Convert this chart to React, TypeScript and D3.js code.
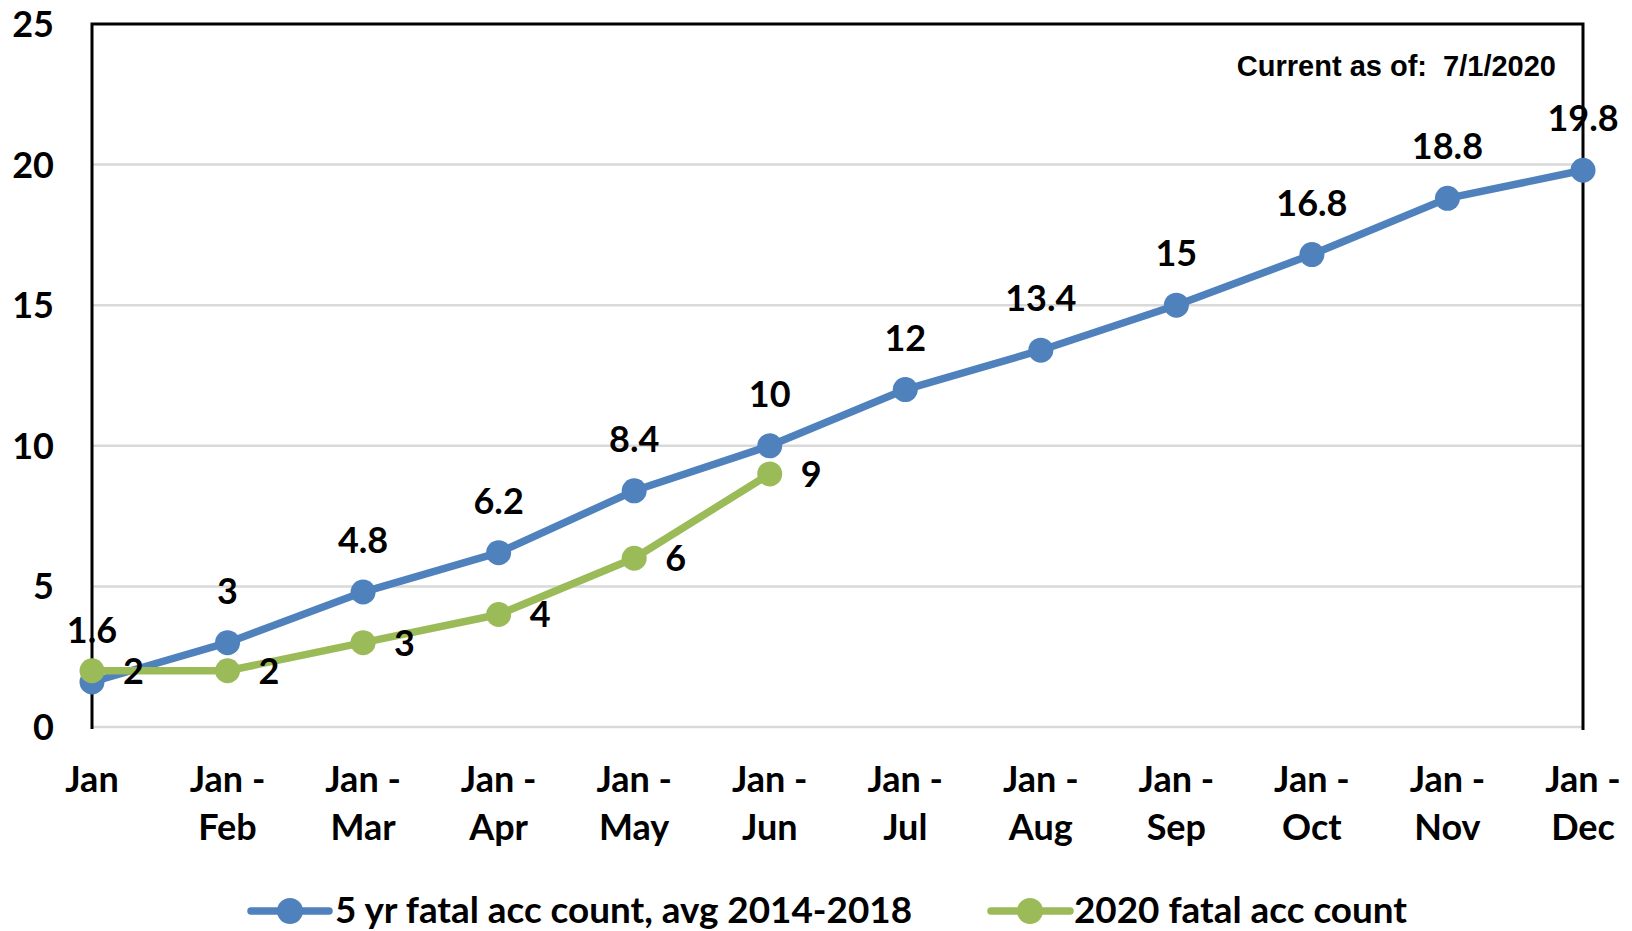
import React from 'react';
import * as d3 from 'd3';

const categories = [
  'Jan', 'Jan -|Feb', 'Jan -|Mar', 'Jan -|Apr', 'Jan -|May', 'Jan -|Jun',
  'Jan -|Jul', 'Jan -|Aug', 'Jan -|Sep', 'Jan -|Oct', 'Jan -|Nov', 'Jan -|Dec',
];
const avgValues = [1.6, 3, 4.8, 6.2, 8.4, 10, 12, 13.4, 15, 16.8, 18.8, 19.8];
const currentValues = [2, 2, 3, 4, 6, 9];
const yTicks = [0, 5, 10, 15, 20, 25];
const avgName = '5 yr fatal acc count, avg 2014-2018';
const currentName = '2020 fatal acc count';
const note = 'Current as of:  7/1/2020';

const width = 1632;
const height = 931;
const blue = '#4f81bd';
const green = '#9bbb59';
const font = 'Lato, "Noto Sans", sans-serif';
const fs = 36;

const App: React.FC = () => {
  const x = d3.scalePoint<string>().domain(categories).range([92, 1583]);
  const y = d3.scaleLinear().domain([0, 25]).range([727, 24]);

  const line = d3.line<number>()
    .x((_, i) => x(categories[i]) as number)
    .y(d => y(d));

  return (
    <svg width={width} height={height} style={{ position: 'absolute', left: 0, top: 0 }}>
      <rect width={width} height={height} fill="#fff" />
      {/* gridlines */}
      {yTicks.filter(t => t < 25).map(t => (
        <line key={t} x1={92} x2={1583} y1={y(t)} y2={y(t)} stroke="#d9d9d9" strokeWidth={2.5} />
      ))}
      {/* border */}
      <path d={`M92,${y(0) + 2}V${y(25)}H1583V${y(0) + 3}`} fill="none" stroke="#000" strokeWidth={3} />

      {/* y tick labels */}
      {yTicks.map(t => (
        <text key={t} x={54} y={y(t)} dy="0.36em" textAnchor="end"
          fontFamily={font} fontWeight={700} fontSize={fs} fill="#000">{t}</text>
      ))}

      {/* x labels */}
      {categories.map(c => (
        <text key={c} x={x(c)} y={792} textAnchor="middle"
          fontFamily={font} fontWeight={700} fontSize={fs} fill="#000">
          {c.split('|').map((s, i) => (
            <tspan key={i} x={x(c)} dy={i === 0 ? 0 : 48}>{s}</tspan>
          ))}
        </text>
      ))}

      {/* series lines */}
      <path d={line(avgValues) || ''} fill="none" stroke={blue} strokeWidth={7.5} strokeLinejoin="round" />
      {avgValues.map((v, i) => (
        <circle key={i} cx={x(categories[i])} cy={y(v)} r={12.5} fill={blue} />
      ))}
      <path d={line(currentValues) || ''} fill="none" stroke={green} strokeWidth={7.5} strokeLinejoin="round" />
      {currentValues.map((v, i) => (
        <circle key={i} cx={x(categories[i])} cy={y(v)} r={12.5} fill={green} />
      ))}

      {/* data labels */}
      {avgValues.map((v, i) => (
        <text key={i} x={x(categories[i])} y={y(v) - 39} textAnchor="middle"
          fontFamily={font} fontWeight={700} fontSize={fs} fill="#000">{v}</text>
      ))}
      {currentValues.map((v, i) => (
        <text key={i} x={(x(categories[i]) as number) + 31} y={y(v)} dy="0.36em"
          fontFamily={font} fontWeight={700} fontSize={fs} fill="#000">{v}</text>
      ))}

      <text x={1556} y={76} textAnchor="end" fontFamily='"Liberation Sans", Arial, sans-serif'
        fontWeight={700} fontSize={29} fill="#000" style={{ whiteSpace: 'pre' }}>{note}</text>

      {/* legend */}
      <line x1={251} x2={329} y1={911} y2={911} stroke={blue} strokeWidth={7.5} strokeLinecap="round" />
      <circle cx={290} cy={911} r={13} fill={blue} />
      <text x={335} y={923} textLength={577} lengthAdjust="spacingAndGlyphs"
        fontFamily={font} fontWeight={700} fontSize={fs} fill="#000">{avgName}</text>
      <line x1={991} x2={1070} y1={911} y2={911} stroke={green} strokeWidth={7.5} strokeLinecap="round" />
      <circle cx={1030} cy={911} r={13} fill={green} />
      <text x={1074} y={923} textLength={333} lengthAdjust="spacingAndGlyphs"
        fontFamily={font} fontWeight={700} fontSize={fs} fill="#000">{currentName}</text>
    </svg>
  );
};

export default App;
